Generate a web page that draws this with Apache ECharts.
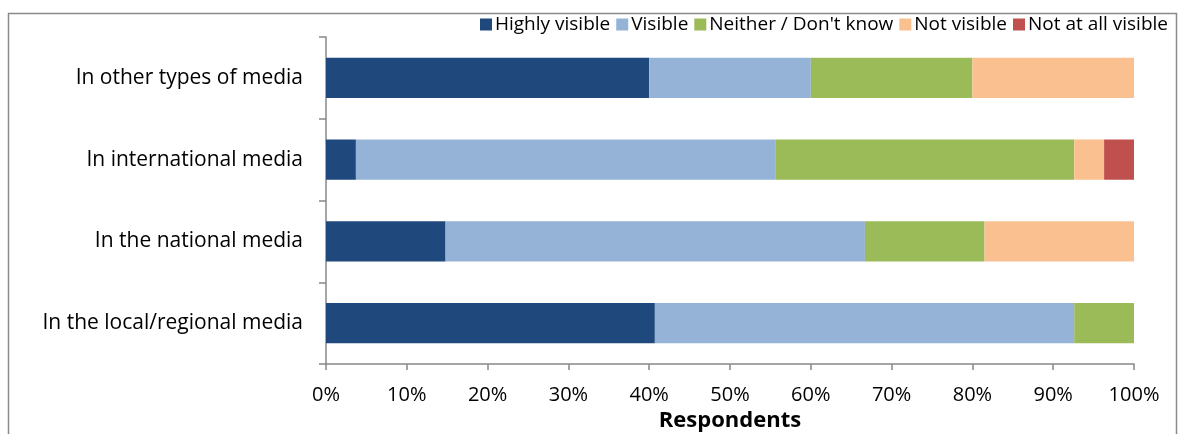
<!DOCTYPE html>
<html>
<head>
<meta charset="utf-8">
<script src="https://cdn.jsdelivr.net/npm/echarts@6/dist/echarts.min.js"></script>
<style>
  html, body { margin: 0; padding: 0; background: #fff; }
  #chart { width: 1181px; height: 434px; }
</style>
</head>
<body>
<div id="chart"></div>
<script>
// Media categories, listed bottom to top as the category axis draws them
const categories = [
  'In the local/regional media',
  'In the national media',
  'In international media',
  'In other types of media'
];

// Share of respondents (%) per answer
const highlyVisible = [40.7, 14.8, 3.7, 40];
const visible       = [51.9, 51.9, 51.9, 20];
const neither       = [7.4, 14.8, 37.0, 20];
const notVisible    = [0, 18.5, 3.7, 20];
const notAtAll      = [0, 0, 3.7, 0];

const seriesNames = ['Highly visible', 'Visible', 'Neither / Don\'t know', 'Not visible', 'Not at all visible'];
const seriesColors = ['#1F497D', '#95B3D7', '#9BBB59', '#FAC090', '#C0504D'];
const seriesData = [highlyVisible, visible, neither, notVisible, notAtAll];

const FONT = '"Open Sans", "Noto Sans", sans-serif';

const chart = echarts.init(document.getElementById('chart'), null, { renderer: 'canvas' });

chart.setOption({
  animation: false,
  backgroundColor: '#fff',
  textStyle: { fontFamily: FONT, color: '#000' },
  graphic: [{
    type: 'rect',
    shape: { x: 8.5, y: 13.5, width: 1168, height: 440 },
    style: { fill: 'none', stroke: '#8a8a8a', lineWidth: 1.5 },
    silent: true
  }],
  legend: {
    top: 10,
    right: 8,
    itemWidth: 12,
    itemHeight: 12,
    itemGap: 6,
    icon: 'rect',
    textStyle: { fontFamily: FONT, fontSize: 19, color: '#000', padding: [0, 0, 0, -2] },
    data: seriesNames
  },
  grid: { left: 326, right: 47, top: 37, bottom: 70, containLabel: false, outerBoundsMode: 'none' },
  xAxis: {
    type: 'value',
    min: 0,
    max: 100,
    interval: 10,
    axisLine: { show: true, lineStyle: { color: '#888', width: 1.5 } },
    axisTick: { show: true, length: 6, lineStyle: { color: '#888', width: 1.5 } },
    splitLine: { show: false },
    axisLabel: { formatter: '{value}%', fontSize: 20, color: '#000', margin: 21, fontFamily: FONT },
    name: 'Respondents',
    nameLocation: 'middle',
    nameGap: 46,
    nameTextStyle: { fontSize: 22, fontWeight: 'bold', color: '#000', fontFamily: FONT }
  },
  yAxis: {
    type: 'category',
    data: categories,
    axisLine: { show: true, lineStyle: { color: '#888', width: 1.5 } },
    axisTick: { show: true, length: 7, lineStyle: { color: '#888', width: 1.5 } },
    axisLabel: { fontSize: 21, color: '#000', margin: 23, fontFamily: FONT }
  },
  series: seriesNames.map((name, i) => ({
    name: name,
    type: 'bar',
    stack: 'total',
    barWidth: '49%',
    itemStyle: { color: seriesColors[i] },
    data: seriesData[i]
  }))
});
</script>
</body>
</html>
